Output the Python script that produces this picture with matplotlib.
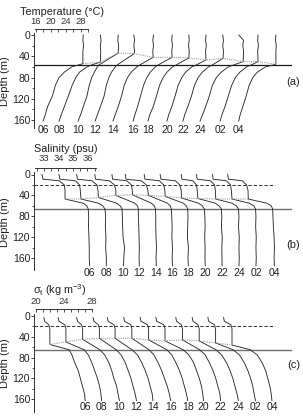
import matplotlib
matplotlib.use("Agg")
import matplotlib.pyplot as plt

plt.rcParams["font.family"] = ["Liberation Sans", "DejaVu Sans"]
plt.rcParams["mathtext.fontset"] = "custom"
plt.rcParams["mathtext.rm"] = "Liberation Sans"
plt.rcParams["mathtext.it"] = "Liberation Sans:italic"

HOURS = ["06", "08", "10", "12", "14", "16", "18", "20", "22", "24", "02", "04"]

# ---- (a) temperature, degC ----
Z_T_UPPER = [0, 10, 20, 30]
MLD_T = [54, 51, 34, 35, 42, 42, 43, 47, 44, 50, 50, 55]
Z_T_DEEP = [56, 60, 70, 80, 95, 115, 135, 150, 162]
T_UPPER = [  # values at 0, 10, 20, 30 m and at the mixed layer depth
    [28.7, 28.6, 28.8, 28.6, 28.6],
    [28.6, 28.8, 28.6, 28.7, 28.6],
    [28.7, 28.6, 28.8, 28.7, 28.7],
    [28.2, 28.4, 28.2, 28.4, 28.3],
    [28.8, 28.6, 28.8, 28.6, 28.7],
    [29.1, 29.0, 29.2, 29.0, 29.1],
    [28.9, 29.0, 28.8, 29.0, 28.9],
    [28.8, 28.7, 28.9, 28.7, 28.8],
    [28.6, 28.8, 28.6, 28.8, 28.7],
    [28.2, 29.5, 29.3, 29.5, 29.4],
    [28.7, 28.6, 28.8, 28.6, 28.7],
    [28.8, 28.7, 28.9, 28.8, 28.8],
]
T_DEEP = [
    [27.6, 25.6, 23.6, 22.2, 21.2, 20.4, 19.1, 18.5, 17.9],
    [26.4, 25.0, 23.0, 22.0, 21.0, 20.0, 18.9, 18.1, 17.5],
    [23.6, 23.1, 22.3, 21.6, 20.9, 20.3, 19.3, 18.6, 17.9],
    [23.8, 23.2, 22.2, 21.5, 20.8, 20.2, 19.2, 18.4, 17.8],
    [25.2, 24.3, 22.8, 21.8, 20.9, 20.2, 19.3, 18.5, 17.9],
    [25.4, 24.6, 23.2, 22.3, 21.4, 20.6, 19.8, 19.1, 18.6],
    [25.6, 24.5, 23.0, 22.0, 21.0, 20.2, 19.3, 18.4, 17.9],
    [26.3, 25.0, 23.3, 22.3, 21.3, 20.5, 19.6, 18.8, 18.3],
    [25.9, 24.8, 23.1, 22.0, 21.0, 20.2, 19.2, 18.4, 17.9],
    [27.0, 25.4, 23.5, 22.2, 21.1, 20.3, 19.3, 18.5, 17.8],
    [27.0, 25.6, 23.8, 22.6, 21.6, 20.7, 19.8, 19.0, 18.5],
    [28.3, 26.0, 23.8, 22.6, 21.6, 20.8, 19.9, 19.2, 18.8],
]

# ---- (b) salinity, psu ----
Z_S_UPPER = [0, 9, 12, 20, 30]
MLD_S = [47, 47, 44, 40, 39, 40, 42, 45, 46, 47, 47, 47]
Z_S_DEEP = [55, 60, 66, 80, 100, 120, 140, 160, 175]
S_UPPER = [  # values at 0, 9, 12, 20, 30 m and at the mixed layer depth
    [32.86, 32.93, 34.05, 34.40, 34.45, 34.45],
    [32.88, 32.95, 34.02, 34.30, 34.35, 34.40],
    [32.95, 33.00, 34.00, 34.35, 34.42, 34.45],
    [33.05, 33.10, 34.05, 34.40, 34.50, 34.50],
    [33.08, 33.12, 34.10, 34.42, 34.48, 34.50],
    [32.85, 32.90, 33.95, 34.30, 34.40, 34.45],
    [33.00, 33.05, 34.05, 34.35, 34.42, 34.45],
    [32.95, 33.00, 34.00, 34.30, 34.40, 34.42],
    [33.25, 33.30, 34.05, 34.30, 34.35, 34.40],
    [33.15, 33.20, 34.10, 34.40, 34.45, 34.48],
    [33.10, 33.15, 34.05, 34.35, 34.40, 34.45],
    [33.00, 33.05, 34.00, 34.30, 34.40, 34.42],
]
S_DEEP = [
    [35.70, 35.95, 36.05, 36.08, 36.07, 36.10, 36.12, 36.12, 36.15],
    [35.60, 35.90, 36.05, 36.10, 36.08, 36.12, 36.10, 36.15, 36.14],
    [35.70, 35.95, 36.08, 36.10, 36.12, 36.15, 36.25, 36.20, 36.18],
    [35.80, 36.00, 36.05, 36.05, 36.08, 36.10, 36.12, 36.10, 36.12],
    [35.80, 36.00, 36.08, 36.10, 36.10, 36.12, 36.15, 36.12, 36.14],
    [35.75, 35.95, 36.02, 36.05, 36.08, 36.06, 36.10, 36.08, 36.10],
    [35.70, 35.90, 36.00, 36.02, 36.00, 35.98, 36.05, 36.02, 36.04],
    [35.60, 35.85, 36.00, 36.03, 36.05, 36.02, 36.05, 36.04, 36.06],
    [35.60, 35.85, 36.02, 36.05, 36.02, 36.08, 36.05, 36.06, 36.07],
    [35.60, 35.90, 36.05, 36.08, 36.05, 36.10, 36.08, 36.10, 36.08],
    [35.65, 35.95, 36.07, 36.10, 36.08, 36.12, 36.10, 36.12, 36.10],
    [35.70, 36.00, 36.10, 36.12, 36.15, 36.20, 36.22, 36.20, 36.22],
]

# ---- (c) sigma-t, kg m-3 ----
Z_SIG_UPPER = [3, 10, 17, 25]
MLD_SIG = [55, 50, 45, 43, 43, 43, 46, 48, 46, 48, 52, 56]
Z_SIG_DEEP = [65, 75, 90, 105, 120, 135, 150, 163]
SIG_UPPER = [  # values at 3, 10, 17, 25 m and at the mixed layer depth
    [21.20, 21.30, 21.90, 22.05, 22.05],
    [20.80, 20.90, 21.75, 21.90, 21.90],
    [21.00, 21.10, 21.70, 21.85, 21.85],
    [20.90, 21.00, 21.65, 21.80, 21.80],
    [20.50, 20.60, 21.45, 21.60, 21.60],
    [20.40, 20.50, 21.40, 21.55, 21.55],
    [20.30, 20.40, 21.35, 21.50, 21.50],
    [20.10, 20.20, 21.25, 21.40, 21.40],
    [20.50, 20.60, 21.30, 21.45, 21.45],
    [20.40, 20.50, 21.25, 21.40, 21.40],
    [20.20, 20.30, 21.15, 21.30, 21.30],
    [20.00, 20.10, 21.05, 21.20, 21.20],
]
SIG_DEEP = [
    [24.8, 25.2, 25.6, 26.1, 26.4, 26.7, 27.0, 27.1],
    [24.5, 25.1, 25.6, 26.0, 26.4, 26.7, 26.9, 27.0],
    [24.3, 25.0, 25.6, 26.0, 26.3, 26.7, 26.9, 27.1],
    [24.2, 24.9, 25.5, 25.9, 26.3, 26.6, 26.9, 27.1],
    [24.0, 24.8, 25.4, 25.9, 26.3, 26.6, 26.9, 27.0],
    [24.0, 24.7, 25.3, 25.8, 26.2, 26.6, 26.9, 27.1],
    [24.1, 24.8, 25.4, 25.9, 26.3, 26.6, 26.9, 27.1],
    [24.0, 24.8, 25.5, 25.9, 26.3, 26.6, 26.8, 26.9],
    [23.9, 24.7, 25.3, 25.8, 26.2, 26.5, 26.8, 26.9],
    [23.8, 24.6, 25.3, 25.8, 26.2, 26.5, 26.8, 27.0],
    [23.8, 24.7, 25.4, 25.9, 26.3, 26.6, 26.8, 27.0],
    [23.8, 24.8, 25.5, 26.0, 26.3, 26.6, 26.8, 26.9],
]

PROFILE_COLOR = "#2b2b2b"
DOTTED_COLOR = "#9a9a9a"

W, H = 303, 420
fig = plt.figure(figsize=(W / 100, H / 100), dpi=100)


def panel(top_px, bottom_px, d0_px, px_per_m, x0_px, x0_val, px_per_unit, offset_px):
    """Axes placed in pixel terms; returns ax and the profile offset in data units."""
    left_px, right_px = 34, 292
    ax = fig.add_axes([left_px / W, 1 - bottom_px / H,
                       (right_px - left_px) / W, (bottom_px - top_px) / H])
    ax.set_xlim(x0_val - (x0_px - left_px) / px_per_unit,
                x0_val + (right_px - x0_px) / px_per_unit)
    ax.set_ylim((bottom_px - d0_px) / px_per_m, -(d0_px - top_px) / px_per_m)
    ax.set_facecolor("none")
    return ax, offset_px / px_per_unit


def style(ax, xlabel, bar, major, minor, lab_xy, tick_pad, letter, letter_y, ybottom):
    ax.spines["right"].set_visible(False)
    ax.spines["bottom"].set_visible(False)
    ax.spines["left"].set_bounds(-4, ybottom)
    ax.spines["top"].set_bounds(*bar)
    for s in ("left", "top"):
        ax.spines[s].set_linewidth(0.7)
        ax.spines[s].set_color("#333333")
    ax.xaxis.set_ticks_position("top")
    ax.xaxis.set_label_position("top")
    ax.set_xticks(major)
    ax.set_xticks(minor, minor=True)
    ax.tick_params(axis="x", which="both", direction="in", length=2, width=0.6,
                   labelsize=6.8, pad=tick_pad, colors="#333333")
    ax.set_yticks([0, 40, 80, 120, 160])
    ax.set_yticks([20, 60, 100, 140], minor=True)
    ax.tick_params(axis="y", which="major", direction="out", length=2, width=0.6,
                   labelsize=7.5, pad=0.8, colors="#222222")
    ax.tick_params(axis="y", which="minor", direction="out", length=1.2, width=0.5)
    ax.set_xlabel(xlabel, fontsize=7.8, color="#222222")
    ax.xaxis.set_label_coords(*lab_xy)
    ax.set_ylabel("Depth (m)", fontsize=8, color="#222222")
    ax.yaxis.set_label_coords(-0.092, 0.47)
    ax.text(1.006, letter_y, letter, transform=ax.transAxes, ha="center",
            va="center", fontsize=8, color="#222222", clip_on=False)


def draw_profiles(ax, depths, values, offset, mld_idx, label_depth):
    kinks_x, kinks_z = [], []
    for i, (z, v) in enumerate(zip(depths, values)):
        xs = [val + i * offset for val in v]
        ax.plot(xs, z, color=PROFILE_COLOR, lw=0.65, solid_joinstyle="round")
        kinks_x.append(xs[mld_idx])
        kinks_z.append(z[mld_idx])
        ax.text(xs[-1], label_depth, HOURS[i], ha="center", va="center",
                fontsize=7.5, color="#222222", clip_on=False)
    ax.plot(kinks_x, kinks_z, color=DOTTED_COLOR, lw=0.8, ls=(0, (1, 1)))


# (a) temperature
ax_a, off_a = panel(29, 128, 35, 85 / 160, 36, 16, 3.72, 17.48)
depths_a = [Z_T_UPPER + [MLD_T[i]] + Z_T_DEEP for i in range(12)]
values_a = [T_UPPER[i] + T_DEEP[i] for i in range(12)]
ax_a.axhline(56, color="#1a1a1a", lw=0.9)
draw_profiles(ax_a, depths_a, values_a, off_a, 4, 178.8)
style(ax_a, "Temperature (°C)", (15.73, 29.98), [16, 20, 24, 28], [18, 22, 26, 30],
      (0.107, 1.145), 2.5, "(a)", 0.465, 175)

# (b) salinity
ax_b, off_b = panel(168, 270, 174.5, 83.5 / 160, 44, 33, 14.5, 16.7)
depths_b = [Z_S_UPPER + [MLD_S[i]] + Z_S_DEEP for i in range(12)]
values_b = [S_UPPER[i] + S_DEEP[i] for i in range(12)]
ax_b.axhline(66, color="#6e6e6e", lw=1.0)
ax_b.hlines(20, ax_b.get_xlim()[0], 33 + 231 / 14.5, color="#333333", lw=0.7,
            ls=(0, (3.5, 2)))
draw_profiles(ax_b, depths_b, values_b, off_b, 5, 188.7)
style(ax_b, "Salinity (psu)", (32.38, 36.59), [33, 34, 35, 36],
      [32.5, 33.5, 34.5, 35.5, 36.5], (0.124, 1.155), 3.5, "(b)", 0.245, 183)

# (c) sigma-t
ax_c, off_c = panel(308.5, 412, 316, 83 / 160, 35.5, 20, 7.0, 17.1)
depths_c = [Z_SIG_UPPER + [MLD_SIG[i]] + Z_SIG_DEEP for i in range(12)]
values_c = [SIG_UPPER[i] + SIG_DEEP[i] for i in range(12)]
ax_c.axhline(65, color="#6e6e6e", lw=1.0)
ax_c.hlines(20, ax_c.get_xlim()[0], 20 + 239.5 / 7, color="#333333", lw=0.7,
            ls=(0, (3.5, 2)))
draw_profiles(ax_c, depths_c, values_c, off_c, 4, 175.4)
style(ax_c, r"σ$_\mathrm{t}$ (kg m$^{-3}$)", (20, 28), [20, 24, 28],
      [21, 22, 23, 25, 26, 27], (0.1, 1.14), 1.5, "(c)", 0.454, 185)

fig.savefig("out.png", dpi=100, facecolor="white")
